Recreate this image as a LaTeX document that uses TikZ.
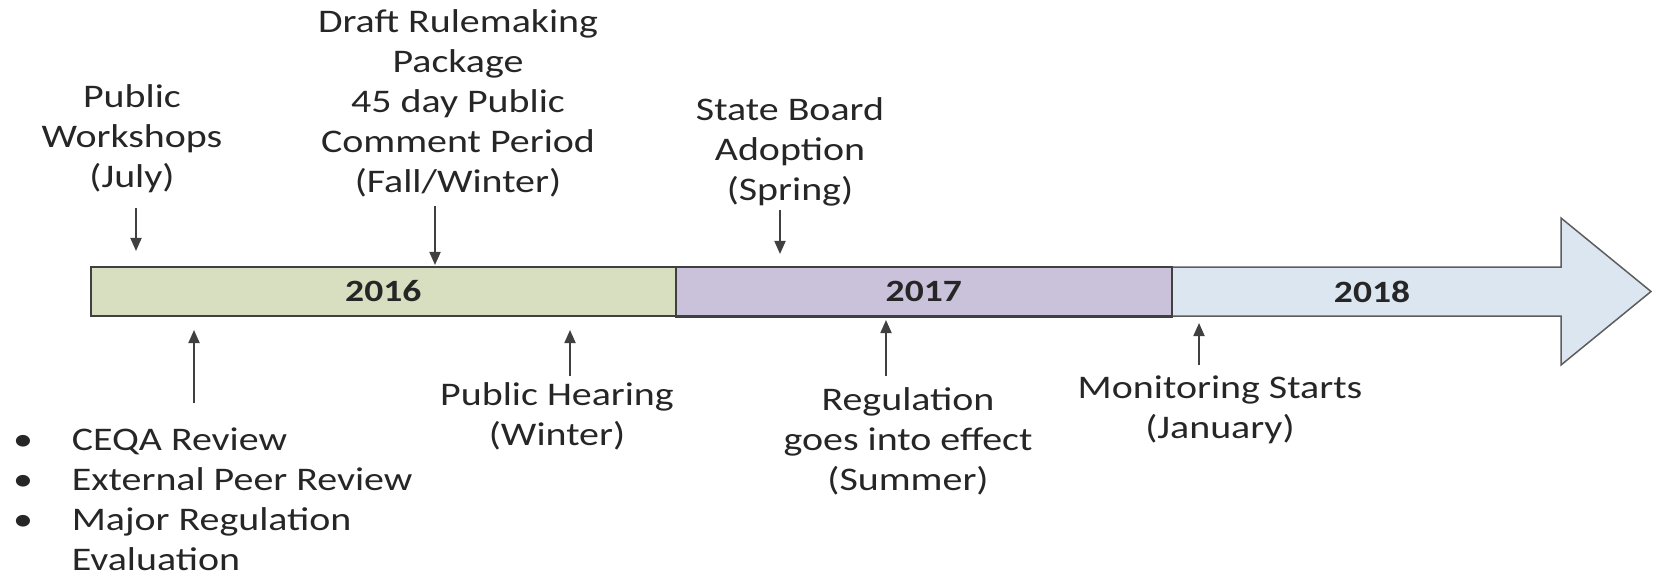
\documentclass[tikz,border=0pt]{standalone}
\usepackage{fontspec}
\setmainfont{Carlito}
\usetikzlibrary{arrows.meta}
\definecolor{barline}{HTML}{404040}
\definecolor{yrA}{HTML}{D8DEC0}
\definecolor{yrB}{HTML}{CAC1DB}
\definecolor{yrC}{HTML}{DCE6F1}
\definecolor{ink}{HTML}{262626}
\begin{document}
\begin{tikzpicture}[x=1pt,y=1pt,
    lbl/.style={font=\fontsize{33}{40}\selectfont, text=ink, align=center, xscale=1.21, inner sep=0pt},
    yr/.style={font=\fontsize{31}{36}\selectfont\bfseries, text=ink, xscale=1.21, inner sep=0pt},
    seg/.style={draw=barline, line width=1.5pt, minimum height=49pt, inner sep=0pt, anchor=west},
    evt/.style={-{Triangle[length=13pt,width=11pt]}, barline, line width=1.8pt}]
    \useasboundingbox (0,0) rectangle (1661,571);

    % timeline bar
    \draw [barline!85, line width=1.5pt, fill=yrC] (1171,304)--(1561,304)--(1561,353)--(1651,279.5)
        --(1561,206)--(1561,255)--(1171,255)--cycle;
    \node [seg, fill=yrA, minimum width=585pt] (y16) at (90,279.5) {};
    \node [seg, fill=yrB, minimum width=496pt] (y17) at (675,279.5) {};
    \draw [barline, line width=2.6pt] (y17.south west)--(y17.south east);
    \node [yr] (t16) at (y16.center) {2016};
    \node [yr] (t17) at (y17.center) {2017};
    \node [yr] (t18) at (1372,279.5) {2018};

    % events above
    \node [lbl] (work) at (132,432) {Public\\Workshops\\(July)};
    \node [lbl] (draft) at (458,468) {Draft Rulemaking\\Package\\45 day Public\\Comment Period\\(Fall/Winter)};
    \node [lbl] (board) at (790,419) {State Board\\Adoption\\(Spring)};
    \coordinate (workTip) at (136,320);
    \coordinate (draftTip) at (435,306);
    \coordinate (boardTip) at (780,317);
    \draw [evt,shorten <=15pt] (work.south -| workTip)--(workTip);
    \draw [evt,shorten <=9pt] (draft.south -| draftTip)--(draftTip);
    \draw [evt,shorten <=4pt] (board.south -| boardTip)--(boardTip);

    % events below
    \node [lbl] (hear) at (557,155) {Public Hearing\\(Winter)};
    \node [lbl] (reg) at (908,130) {Regulation\\goes into effect\\(Summer)};
    \node [lbl] (mon) at (1220,161) {Monitoring Starts\\(January)};
    \node [lbl, align=left, anchor=north west] (rev) at (13,149)
        {\begin{tabular}{@{}l@{\hspace{32pt}}l@{}}
        • & CEQA Review\\
        • & External Peer Review\\
        • & Major Regulation\\
          & Evaluation
        \end{tabular}};
    \coordinate (revTip) at (194,241);
    \coordinate (hearTip) at (570,241);
    \coordinate (regTip) at (886,251);
    \coordinate (monTip) at (1199,248);
    \draw [evt,shorten <=19pt] (rev.north -| revTip)--(revTip);
    \draw [evt,shorten <=6pt] (hear.north -| hearTip)--(hearTip);
    \draw [evt,shorten <=11pt] (reg.north -| regTip)--(regTip);
    \draw [evt,shorten <=11pt] (mon.north -| monTip)--(monTip);
\end{tikzpicture}
\end{document}
